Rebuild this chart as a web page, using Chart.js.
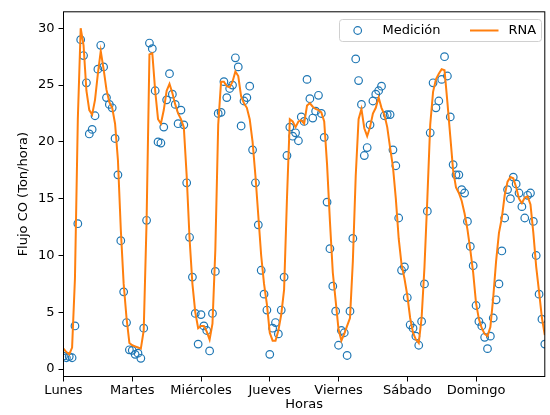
<!DOCTYPE html>
<html>
<head>
<meta charset="utf-8">
<script src="https://cdn.jsdelivr.net/npm/chart.js@4.4.0/dist/chart.umd.min.js"></script>
<style>
html, body { margin: 0; padding: 0; background: #fff; }
</style>
</head>
<body>
<canvas id="coChart" width="550" height="415"></canvas>
<script>
// etiquetas del eje x, una por dia (cada 24 horas)
const dias = ['Lunes', 'Martes', 'Miércoles', 'Jueves', 'Viernes', 'Sábado', 'Domingo'];
const yTicks = [0, 5, 10, 15, 20, 25, 30];

// flujo medido, hora 0 a 168
const medicion = [
    1.15, 1.0, 1.1, 1.0, 3.8, 12.8, 29.0, 27.6, 25.2, 20.7, 21.1, 22.3, 26.4, 28.5, 26.6, 23.9, 23.3, 23.0, 20.3, 17.1, 11.3, 6.8, 4.1, 1.7,
    1.65, 1.3, 1.4, 0.95, 3.6, 13.1, 28.7, 28.2, 24.5, 20.0, 19.9, 21.3, 23.7, 26.0, 24.2, 23.3, 21.6, 22.8, 21.5, 16.4, 11.6, 8.1, 4.9, 2.2,
    4.8, 3.8, 3.4, 1.6, 4.9, 8.6, 22.5, 22.6, 25.3, 23.9, 24.7, 25.0, 27.4, 26.6, 21.4, 23.6, 23.9, 24.9, 19.3, 16.4, 12.7, 8.7, 6.6, 5.2,
    1.3, 3.6, 4.1, 3.1, 5.2, 8.1, 18.8, 21.3, 20.5, 20.8, 20.1, 22.2, 21.8, 25.5, 23.8, 22.1, 22.7, 24.1, 22.5, 20.4, 14.7, 10.6, 7.3, 5.1,
    2.1, 3.4, 3.2, 1.2, 5.1, 11.5, 27.3, 25.4, 23.3, 18.8, 19.5, 21.5, 23.6, 24.2, 24.5, 24.9, 22.3, 22.4, 22.4, 19.3, 17.9, 13.3, 8.7, 9.0,
    6.3, 3.9, 3.6, 2.9, 2.1, 4.2, 7.5, 13.9, 20.8, 25.2, 23.0, 23.6, 25.5, 27.5, 25.8, 22.2, 18.0, 17.1, 17.1, 15.8, 15.5, 13.0, 10.8, 9.1,
    5.6, 4.2, 3.8, 2.8, 1.8, 2.9, 4.5, 6.1, 7.5, 10.4, 13.3, 15.8, 15.0, 16.9, 16.3, 15.5, 14.3, 13.3, 15.3, 15.5, 13.0, 10.0, 6.6, 4.4,
    2.2
];

// salida de la red neuronal, hora 0 a 168
const rna = [
    1.8, 1.5, 1.3, 1.9, 8.0, 22.0, 30.0, 28.5, 24.5, 22.8, 22.4, 23.7, 26.0, 28.0, 26.4, 24.6, 23.5, 23.0, 21.6, 18.4, 12.3, 7.5, 4.5, 2.3,
    2.1, 2.0, 1.9, 1.8, 3.4, 13.0, 27.7, 27.8, 24.5, 22.0, 21.6, 22.8, 24.5, 25.1, 24.3, 23.3, 22.5, 22.0, 21.3, 17.0, 11.5, 7.5, 5.0, 3.6,
    3.8, 3.8, 3.3, 2.6, 4.0, 10.5, 21.5, 25.3, 25.3, 24.9, 24.8, 25.3, 26.2, 25.8, 24.0, 23.4, 23.0, 22.0, 20.0, 17.0, 13.5, 10.0, 7.5, 5.7,
    3.2, 2.5, 2.5, 3.4, 4.8, 7.0, 15.0, 22.0, 21.8, 21.3, 21.8, 21.9, 21.6, 23.2, 23.4, 23.1, 22.9, 22.8, 22.6, 21.8, 18.0, 13.0, 8.5, 6.0,
    3.5, 2.5, 3.1, 3.8, 4.5, 9.5, 17.0, 22.0, 22.9, 21.2, 20.5, 21.3, 22.5, 23.0, 23.9, 23.0, 22.4, 21.3, 19.5, 17.8, 15.0, 11.5, 9.2, 8.0,
    6.5, 4.5, 3.2, 2.6, 2.3, 4.5, 9.0, 15.0, 21.5, 24.4, 25.5, 26.0, 26.4, 26.3, 23.5, 20.5, 17.5, 16.0, 15.5, 14.8, 13.7, 12.3, 10.5, 8.5,
    5.8, 4.4, 3.6, 3.1, 2.9, 3.7, 6.3, 9.5, 12.0, 13.3, 15.3, 16.5, 16.9, 16.8, 16.0, 15.0, 14.6, 15.1, 15.2, 14.5, 12.0, 9.0, 6.8, 4.5,
    3.0
];

const azul = '#1f77b4';
const naranja = '#ff7f0e';

Chart.defaults.font.family = 'DejaVu Sans';
Chart.defaults.font.size = 13;
Chart.defaults.color = '#000';

// marco completo alrededor del area de datos
const marco = {
    id: 'marco',
    afterDraw(chart) {
        const { ctx, chartArea: a } = chart;
        ctx.save();
        ctx.strokeStyle = '#000';
        ctx.lineWidth = 1;
        ctx.strokeRect(a.left, a.top, a.right - a.left, a.bottom - a.top);
        ctx.restore();
    }
};

// leyenda dentro del grafico, arriba a la derecha
const leyenda = {
    id: 'leyenda',
    afterDraw(chart) {
        const ctx = chart.ctx;
        const x = 339.5, y = 19.5, w = 202, h = 22, r = 3;
        ctx.save();
        ctx.beginPath();
        ctx.roundRect(x, y, w, h, r);
        ctx.fillStyle = 'rgba(255,255,255,0.8)';
        ctx.fill();
        ctx.strokeStyle = '#d0d0d0';
        ctx.lineWidth = 1;
        ctx.stroke();

        const cy = y + h / 2;
        ctx.beginPath();
        ctx.arc(357.7, cy, 3.8, 0, Math.PI * 2);
        ctx.strokeStyle = azul;
        ctx.lineWidth = 1.2;
        ctx.stroke();

        ctx.beginPath();
        ctx.moveTo(470, cy);
        ctx.lineTo(498.5, cy);
        ctx.strokeStyle = naranja;
        ctx.lineWidth = 2;
        ctx.stroke();

        ctx.fillStyle = '#000';
        ctx.font = '13px "DejaVu Sans"';
        ctx.textBaseline = 'middle';
        ctx.fillText('Medición', 382.5, cy + 0.5);
        ctx.fillText('RNA', 508.5, cy + 0.5);
        ctx.restore();
    }
};

const ctx = document.getElementById('coChart').getContext('2d');
const coChart = new Chart(ctx, {
    type: 'line',
    data: {
        datasets: [
            {
                label: 'Medición',
                data: medicion.map((v, i) => ({ x: i, y: v })),
                showLine: false,
                pointRadius: 3.8,
                pointBorderWidth: 1.2,
                pointBorderColor: azul,
                pointBackgroundColor: 'rgba(0,0,0,0)',
                order: 2
            },
            {
                label: 'RNA',
                data: rna.map((v, i) => ({ x: i, y: v })),
                borderColor: naranja,
                borderWidth: 2,
                pointRadius: 0,
                tension: 0,
                fill: false,
                order: 1
            }
        ]
    },
    options: {
        responsive: false,
        animation: false,
        devicePixelRatio: 1,
        layout: { padding: { top: 11.5, right: 1.5, left: 0, bottom: 0 } },
        plugins: {
            legend: { display: false },
            tooltip: { enabled: false }
        },
        scales: {
            x: {
                type: 'linear',
                min: 0,
                max: 168,
                afterBuildTicks: (scale) => { scale.ticks = dias.map((d, i) => ({ value: i * 24 })); },
                afterFit: (scale) => { scale.height = 38.5; },
                ticks: {
                    autoSkip: false,
                    maxRotation: 0,
                    padding: 1,
                    callback: (v) => dias[Math.round(v / 24)]
                },
                grid: { drawOnChartArea: false, drawTicks: true, tickLength: 5, color: '#000' },
                border: { display: false },
                title: { display: true, text: 'Horas', padding: { top: 0, bottom: 3 } }
            },
            y: {
                min: -0.65,
                max: 31.45,
                afterBuildTicks: (scale) => { scale.ticks = yTicks.map(v => ({ value: v })); },
                afterFit: (scale) => { scale.width = 63.5; },
                ticks: { padding: 4 },
                grid: { drawOnChartArea: false, drawTicks: true, tickLength: 5, color: '#000' },
                border: { display: false },
                title: { display: true, text: 'Flujo CO (Ton/hora)', padding: { top: 16, bottom: 0 } }
            }
        }
    },
    plugins: [marco, leyenda]
});
</script>
</body>
</html>
